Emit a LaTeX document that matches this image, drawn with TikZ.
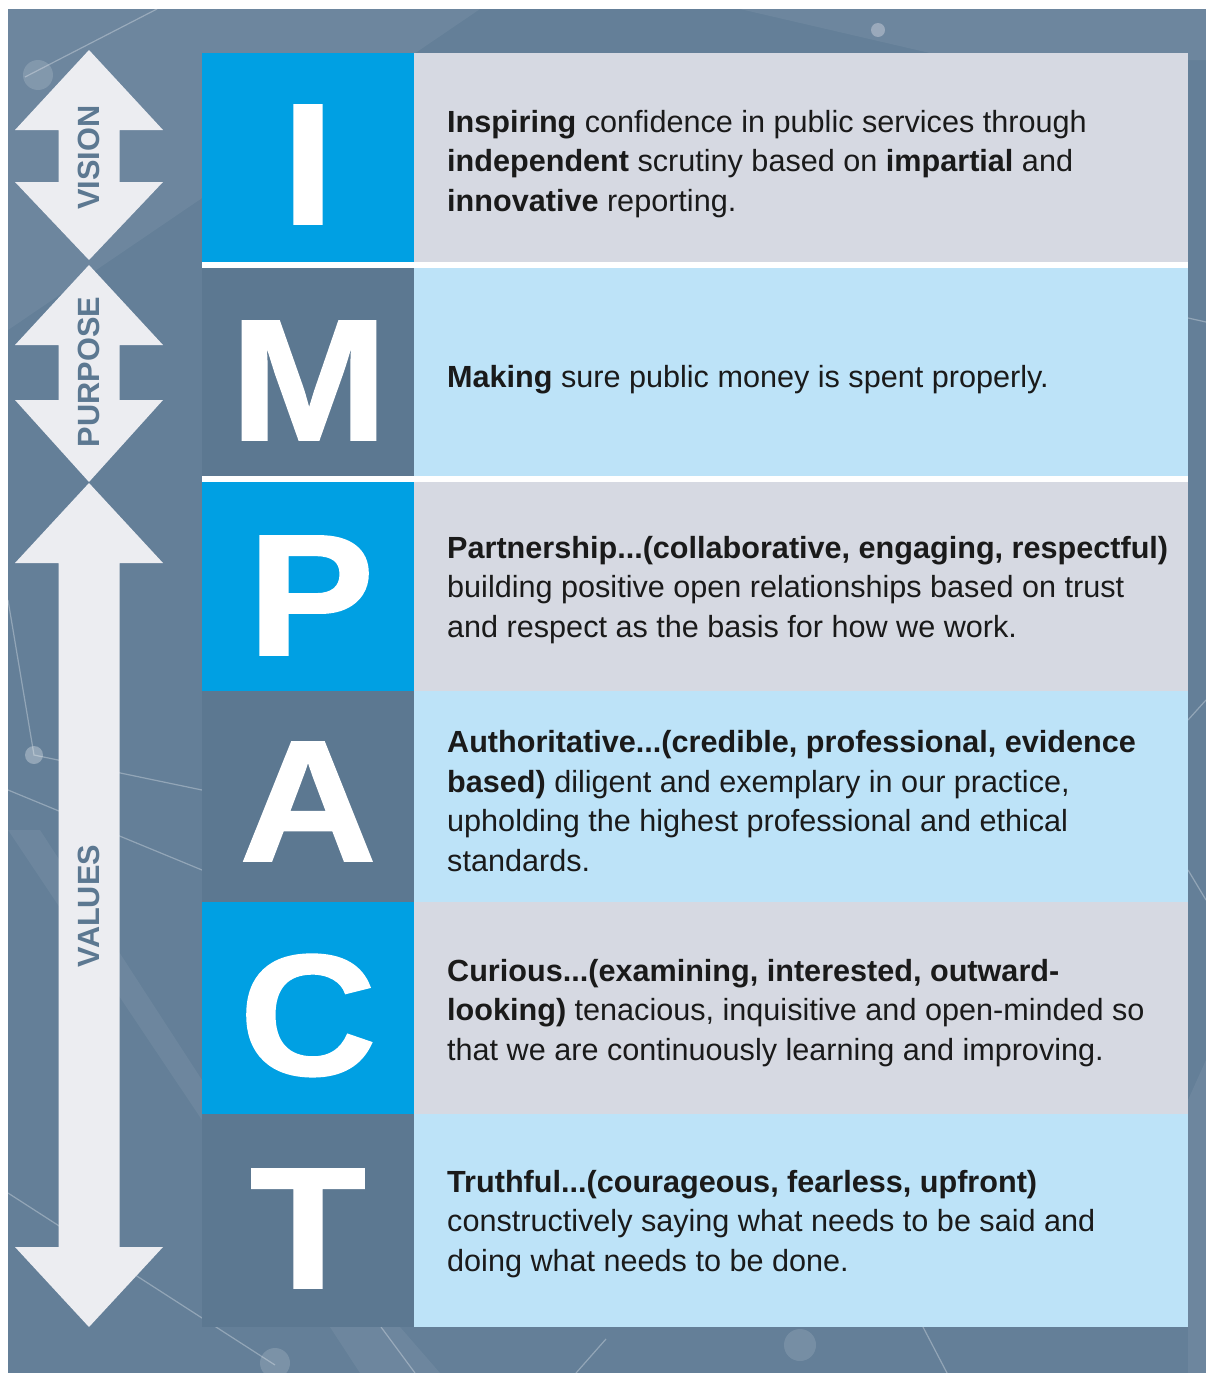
\documentclass[tikz,border=0pt]{standalone}
\usepackage{fontspec}
\setmainfont{Liberation Sans}
\newfontfamily\bigletters[FakeStretch=1.1,FakeBold=1]{Liberation Sans Bold}
\definecolor{bgc}{HTML}{647F98}
\definecolor{slate}{HTML}{5C7891}
\definecolor{iblue}{HTML}{00A0E3}
\definecolor{pgray}{HTML}{D6D9E2}
\definecolor{pblue}{HTML}{BDE3F8}
\definecolor{arrowc}{HTML}{ECEDF1}
\definecolor{txt}{HTML}{1A1A1A}
\definecolor{dotc}{HTML}{9AA9BB}
\tikzset{
  netline/.style={draw=white, draw opacity=0.3, line width=1.2pt},
  facet/.style={fill=white, fill opacity=0.06},
  bigletter/.style={text=white, inner sep=0pt, anchor=base, font=\bigletters\fontsize{173}{173}\selectfont},
  bodytext/.style={text=txt, inner sep=0pt, anchor=west, align=left, font=\fontsize{30.6}{39.5}\selectfont},
  arrowshape/.style={fill=arrowc},
  arrowlabel/.style={text=slate, inner sep=0pt, rotate=90, font=\bfseries\fontsize{30.7}{30.7}\selectfont}
}
\begin{document}
\begin{tikzpicture}[x=1pt,y=-1pt]
\useasboundingbox (0,0) rectangle (1206,1373);
% background
\fill[bgc] (8,9) rectangle (1206,1373);
\fill[facet] (8,9) -- (480,9) -- (8,330) -- cycle;
\fill[facet] (740,9) -- (1206,9) -- (1206,60) -- (960,60) -- cycle;
\fill[facet] (8,830) -- (40,830) -- (202,1080) -- (202,1120) -- cycle;
\fill[facet] (330,1327) -- (400,1327) -- (440,1373) -- (360,1373) -- cycle;
\fill[facet] (1188,1100) -- (1206,1060) -- (1206,1373) -- (1188,1373) -- cycle;
\draw[netline] (25,77) -- (157,9);
\draw[netline] (8,600) -- (34,755) -- (202,790);
\draw[netline] (8,790) -- (202,870);
\draw[netline] (8,1193) -- (275,1365);
\draw[netline] (381,1327) -- (415,1373);
\draw[netline] (923,1327) -- (947,1373);
\draw[netline] (606,1339) -- (576,1373);
\draw[netline] (1188,318) -- (1206,322);
\draw[netline] (1188,720) -- (1206,700);
\draw[netline] (1188,870) -- (1206,900);
\fill[dotc] (878,30) circle (7);
\fill[white, fill opacity=0.15] (38,75) circle (15);
\fill[white, fill opacity=0.3] (34,755) circle (9);
\fill[white, fill opacity=0.15] (275,1363) circle (15);
\fill[white, fill opacity=0.12] (800,1345) circle (16);
% separators
\fill[white] (202,262) rectangle (1188,268);
\fill[white] (202,476) rectangle (1188,482);
% letter cells
\fill[iblue] (202,53) rectangle (414,262);
\fill[slate] (202,268) rectangle (414,476);
\fill[iblue] (202,482) rectangle (414,691);
\fill[slate] (202,691) rectangle (414,902);
\fill[iblue] (202,902) rectangle (414,1114);
\fill[slate] (202,1114) rectangle (414,1327);
% text panels
\fill[pgray] (414,53) rectangle (1188,262);
\fill[pblue] (414,268) rectangle (1188,476);
\fill[pgray] (414,482) rectangle (1188,691);
\fill[pblue] (414,691) rectangle (1188,902);
\fill[pgray] (414,902) rectangle (1188,1114);
\fill[pblue] (414,1114) rectangle (1188,1327);
% letters
\node[bigletter] (LI) at (308,224) {I};
\node[bigletter] (LM) at (309,440) {M};
\node[bigletter] (LP) at (311,655) {P};
\node[bigletter] (LA) at (308,861) {A};
\node[bigletter] (LC) at (308,1075) {C};
\node[bigletter] (LT) at (308,1288) {T};
% texts
\node[bodytext] (TI) at (447,164) {\textbf{Inspiring} confidence in public services through\\\textbf{independent} scrutiny based on \textbf{impartial} and\\\textbf{innovative} reporting.};
\node[bodytext] (TM) at (447,380) {\textbf{Making} sure public money is spent properly.};
\node[bodytext] (TP) at (447,590) {\textbf{Partnership...(collaborative, engaging, respectful)}\\building positive open relationships based on trust\\and respect as the basis for how we work.};
\node[bodytext] (TA) at (447,801) {\textbf{Authoritative...(credible, professional, evidence}\\\textbf{based)} diligent and exemplary in our practice,\\upholding the highest professional and ethical\\standards.};
\node[bodytext] (TC) at (447,1013) {\textbf{Curious...(examining, interested, outward-}\\\textbf{looking)} tenacious, inquisitive and open-minded so\\that we are continuously learning and improving.};
\node[bodytext] (TT) at (447,1224) {\textbf{Truthful...(courageous, fearless, upfront)}\\constructively saying what needs to be said and\\doing what needs to be done.};
% arrows
\fill[arrowshape] (89,50) -- (163,130) -- (119.5,130) -- (119.5,182) -- (163,182) -- (89,260) -- (15,182) -- (58.5,182) -- (58.5,130) -- (15,130) -- cycle;
\fill[arrowshape] (89,265) -- (163,345) -- (119.5,345) -- (119.5,400) -- (163,400) -- (89,482) -- (15,400) -- (58.5,400) -- (58.5,345) -- (15,345) -- cycle;
\fill[arrowshape] (89,483) -- (163,563) -- (119.5,563) -- (119.5,1247) -- (163,1247) -- (89,1327) -- (15,1247) -- (58.5,1247) -- (58.5,563) -- (15,563) -- cycle;
\node[arrowlabel] (vision) at (89,157.5) {VISION};
\node[arrowlabel] (purpose) at (89,372) {PURPOSE};
\node[arrowlabel] (values) at (89,906) {VALUES};
\end{tikzpicture}
\end{document}
